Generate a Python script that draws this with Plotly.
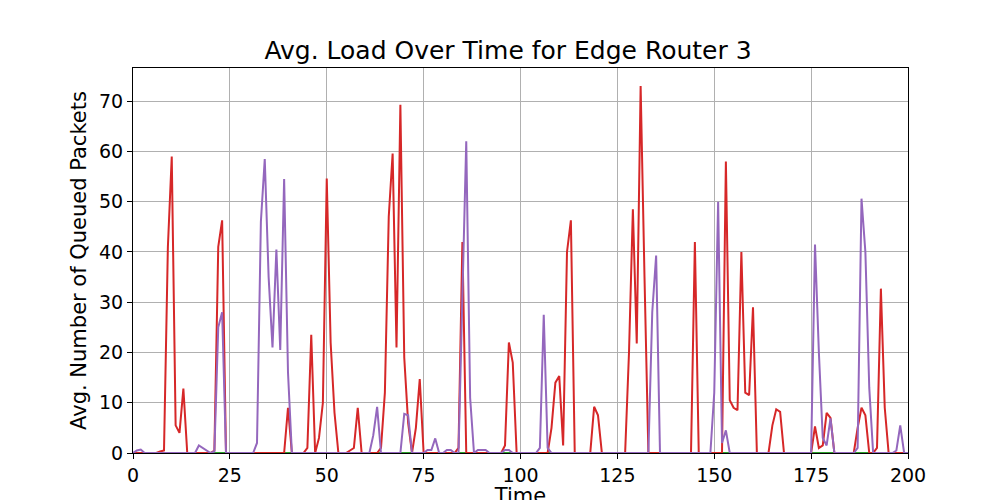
import plotly.graph_objects as go

# Time steps 0..200 (everything else is 0)
time = list(range(201))

red_peaks = {
    7: 0.3, 8: 0.5, 9: 41, 10: 59, 11: 5.5, 12: 4, 13: 12.8,
    21: 0.5, 22: 41, 23: 46.3,
    40: 9,
    45: 1, 46: 23.5, 48: 3, 49: 10, 50: 54.6, 51: 22, 52: 8,
    56: 0.5, 57: 1, 58: 9,
    64: 1, 65: 12, 66: 47, 67: 59.6, 68: 21, 69: 69.3, 70: 19, 71: 6, 73: 5, 74: 14.7,
    84: 1, 85: 42,
    96: 1.5, 97: 22, 98: 18,
    108: 5, 109: 14, 110: 15.3, 111: 1.5, 112: 40, 113: 46.3,
    119: 9.2, 120: 7.5,
    128: 20, 129: 48.5, 130: 21.8, 131: 73, 132: 35,
    145: 42,
    153: 58, 154: 10.5, 155: 9, 156: 8.5, 157: 40, 158: 12, 159: 11.5, 160: 29,
    165: 5.5, 166: 8.7, 167: 8.2,
    176: 5.3, 177: 1, 178: 1.5, 179: 8, 180: 7,
    187: 5, 188: 9, 189: 7.5, 192: 1, 193: 32.7, 194: 9,
}
purple_peaks = {
    1: 0.5, 2: 0.7,
    17: 1.5, 18: 1.0, 19: 0.5, 21: 0.3, 22: 25, 23: 28,
    32: 2, 33: 46, 34: 58.5, 35: 35, 36: 21, 37: 40.5, 38: 20.5, 39: 54.5, 40: 16,
    62: 3.5, 63: 9.2,
    70: 7.8, 71: 7.5,
    76: 0.6, 77: 0.6, 78: 2.9, 81: 0.6, 82: 0.6,
    85: 30, 86: 62, 87: 11, 89: 0.6, 90: 0.6, 91: 0.6,
    96: 0.6, 97: 0.6,
    105: 1, 106: 27.5, 107: 1,
    134: 28, 135: 39.3,
    150: 12, 151: 50, 152: 2, 153: 4.5,
    176: 41.5, 177: 20, 178: 3, 179: 1.5, 180: 6.9,
    187: 1, 188: 50.6, 189: 40, 190: 13,
    197: 0.5, 198: 5.5,
}

red = [red_peaks.get(t, 0) for t in time]
purple = [purple_peaks.get(t, 0) for t in time]
green = [0 for t in time]

fig = go.Figure()
fig.add_trace(go.Scatter(x=time, y=green, mode="lines", line=dict(color="#2ca02c", width=2)))
fig.add_trace(go.Scatter(x=time, y=red, mode="lines", line=dict(color="#d62728", width=2)))
fig.add_trace(go.Scatter(x=time, y=purple, mode="lines", line=dict(color="#9467bd", width=2)))

axis_style = dict(
    showgrid=True, gridcolor="#b0b0b0", gridwidth=1,
    showline=True, linecolor="black", linewidth=1, mirror=True,
    ticks="outside", ticklen=5, tickcolor="black",
    tickfont=dict(size=19), zeroline=False, automargin=False,
)

fig.update_layout(
    width=1000, height=500,
    margin=dict(l=125, r=100, t=60, b=55),
    paper_bgcolor="white", plot_bgcolor="white",
    font=dict(family="DejaVu Sans", color="black"),
    showlegend=False,
    title=dict(text="Avg. Load Over Time for Edge Router 3", x=0.5, xanchor="center",
               y=0.915, yanchor="middle", font=dict(size=25), automargin=False),
    xaxis=dict(axis_style, range=[0, 200], tickvals=[0, 25, 50, 75, 100, 125, 150, 175, 200],
               title=dict(text="Time", font=dict(size=21), standoff=0)),
    yaxis=dict(axis_style, range=[0, 76.6], tickvals=[0, 10, 20, 30, 40, 50, 60, 70],
               title=dict(text="Avg. Number of Queued Packets", font=dict(size=21), standoff=6)),
)

fig.write_html("out.html")
